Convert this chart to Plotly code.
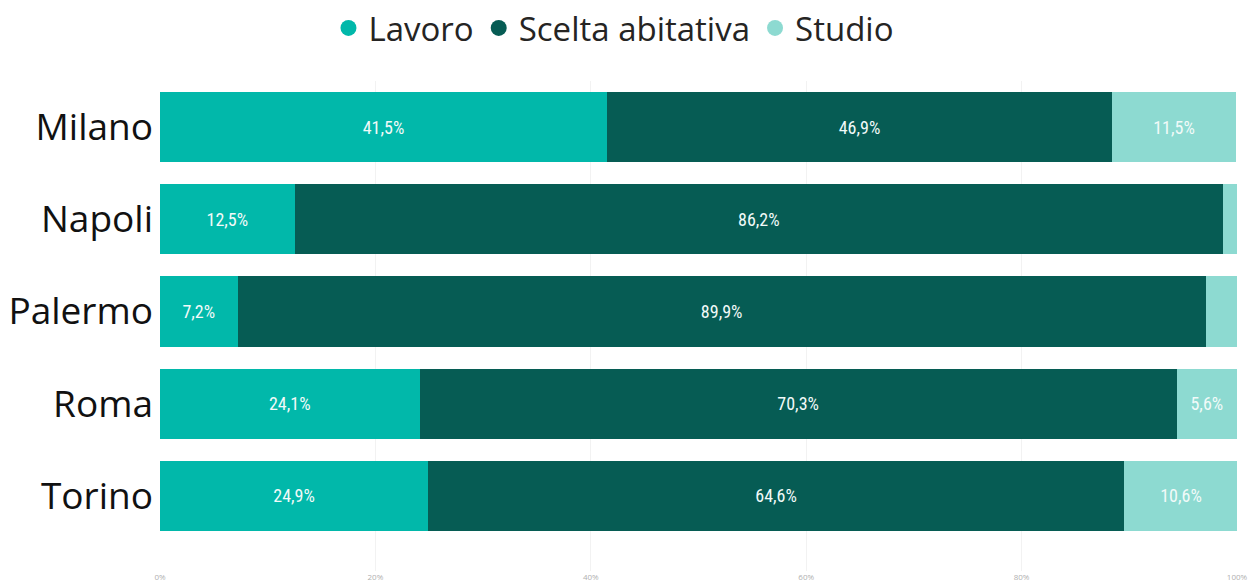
import plotly.graph_objects as go

# Motivo di residenza per città (quote percentuali)
cities = ["Milano", "Napoli", "Palermo", "Roma", "Torino"]
lavoro = [41.5, 12.5, 7.2, 24.1, 24.9]
scelta_abitativa = [46.9, 86.2, 89.9, 70.3, 64.6]
studio = [11.5, 1.3, 2.9, 5.6, 10.6]
x_ticks = [0, 20, 40, 60, 80, 100]
x_tick_labels = ["0%", "20%", "40%", "60%", "80%", "100%"]

series = [
    ("Lavoro", lavoro, "#01B8AA"),
    ("Scelta abitativa", scelta_abitativa, "#065C54"),
    ("Studio", studio, "#8DDAD1"),
]

y_pos = list(range(len(cities)))


def pct_label(v):
    # segments too narrow for a label stay unlabeled
    return f"{v:.1f}%".replace(".", ",") if v >= 4 else ""


fig = go.Figure()
for name, vals, color in series:
    fig.add_trace(go.Bar(
        name=name,
        legendgroup=name,
        showlegend=False,
        y=y_pos,
        x=vals,
        orientation="h",
        marker=dict(color=color, line=dict(width=0)),
        text=[pct_label(v) for v in vals],
        textposition="inside",
        insidetextanchor="middle",
        textangle=0,
        textfont=dict(color="#f2faf9", size=18,
                      family="Liberation Sans Narrow, Roboto Condensed, Roboto"),
    ))

# circular legend markers
for name, vals, color in series:
    fig.add_trace(go.Scatter(
        name=name,
        legendgroup=name,
        x=[None], y=[None],
        mode="markers",
        marker=dict(color=color, size=18, symbol="circle"),
        showlegend=True,
    ))

fig.update_layout(
    barmode="stack",
    bargap=0.24,
    width=1253,
    height=587,
    paper_bgcolor="white",
    plot_bgcolor="white",
    margin=dict(l=160, r=16, t=81, b=16),
    legend=dict(
        orientation="h",
        traceorder="normal",
        x=0.49, xanchor="center", xref="container",
        y=1.0, yanchor="top",
        yref="container",
        font=dict(size=33, color="#252423", family="Open Sans, Noto Sans"),
        itemwidth=30,
        tracegroupgap=0,
    ),
    showlegend=True,
    font=dict(family="Open Sans, Noto Sans"),
)

fig.update_xaxes(
    range=[0, 100],
    tickvals=x_ticks,
    ticktext=x_tick_labels,
    tickfont=dict(size=8, color="#b0b0b0"),
    showgrid=True,
    gridcolor="#f2f2f2",
    gridwidth=1,
    zeroline=False,
    showline=False,
    ticks="",
    automargin=False,
)

fig.update_yaxes(
    range=[4.815, -0.5],
    tickvals=y_pos,
    ticktext=cities,
    tickfont=dict(size=37, color="#111111", family="Open Sans, Noto Sans"),
    showgrid=False,
    zeroline=False,
    showline=False,
    ticks="",
    ticklabelstandoff=6,
    automargin=False,
)

fig.write_html("out.html")
